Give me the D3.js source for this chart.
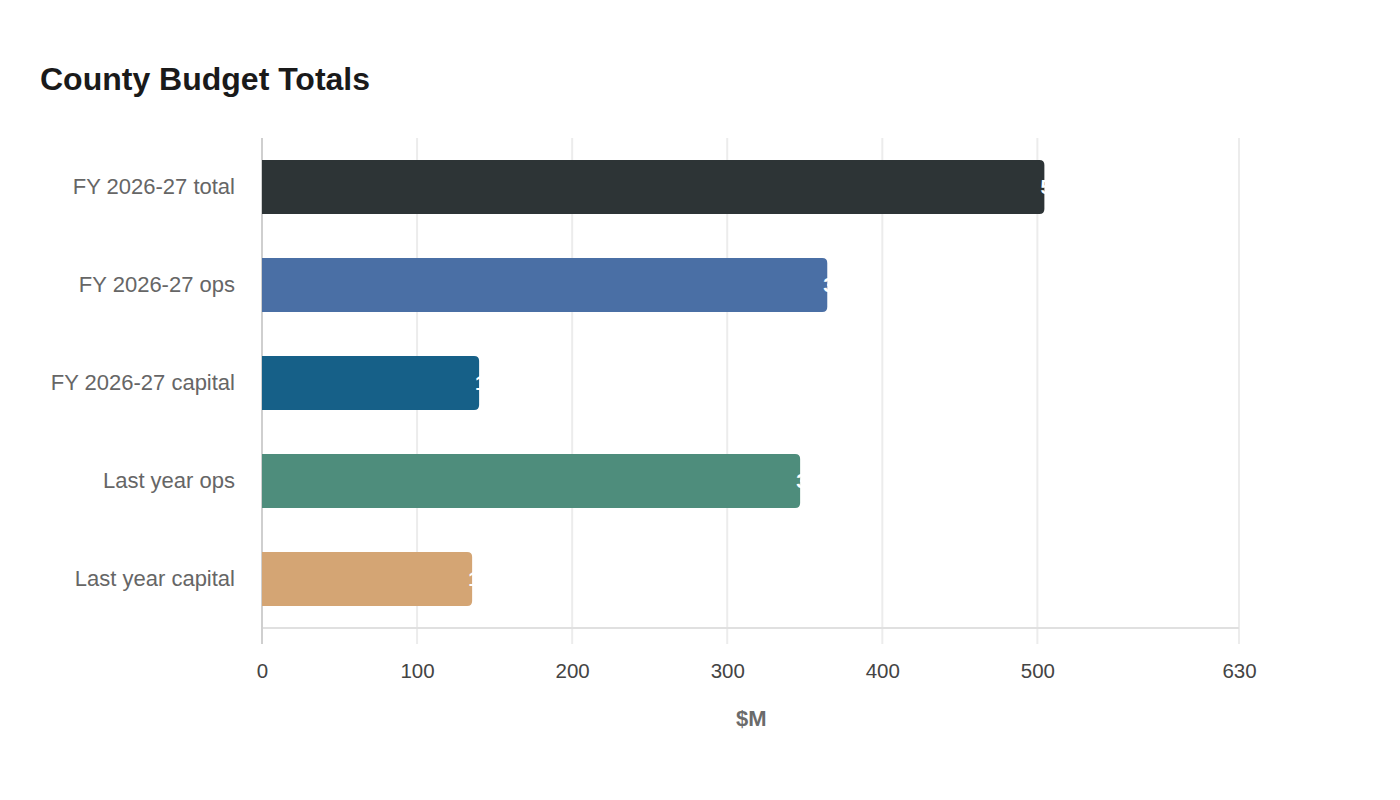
<!DOCTYPE html>
<html>
<head>
<meta charset="utf-8">
<script src="https://cdn.jsdelivr.net/npm/d3@7"></script>
<style>
  body { margin: 0; background: #fff; font-family: "Liberation Sans", Arial, sans-serif; }
</style>
</head>
<body>
<div id="chart-area"></div>
<script>
// data
var categories = ["FY 2026-27 total", "FY 2026-27 ops", "FY 2026-27 capital", "Last year ops", "Last year capital"];
var values = [504.5, 364.5, 140, 347, 135.5];
var colors = ["#2d3436", "#4a6fa5", "#166088", "#4e8d7c", "#d4a574"];
var tickValues = [0, 100, 200, 300, 400, 500, 630];

var margin = {top: 138, right: 161, bottom: 172, left: 262},
    width = 1400 - margin.left - margin.right,
    height = 800 - margin.top - margin.bottom;

var svg = d3.select("#chart-area").append("svg")
    .attr("width", 1400)
    .attr("height", 800);

svg.append("text")
    .attr("x", 40)
    .attr("y", 90)
    .attr("font-size", 32)
    .attr("font-weight", "bold")
    .attr("fill", "#1a1a1a")
    .text("County Budget Totals");

var g = svg.append("g")
    .attr("transform", "translate(" + margin.left + "," + margin.top + ")");

var x = d3.scaleLinear().domain([0, 630]).range([0, width]);
var y = d3.scaleBand().domain(categories).range([0, height])
    .paddingInner(0.45).paddingOuter(0.225);

// grid
g.selectAll(".grid")
    .data(tickValues)
    .enter().append("line")
    .attr("class", "grid")
    .attr("x1", d => x(d)).attr("x2", d => x(d))
    .attr("y1", 0).attr("y2", height + 16)
    .attr("stroke", "#ececec")
    .attr("stroke-width", 2);

// x axis line
g.append("line")
    .attr("x1", 0).attr("x2", width)
    .attr("y1", height).attr("y2", height)
    .attr("stroke", "#e0e0e0").attr("stroke-width", 2);

// y axis line
g.append("line")
    .attr("x1", 0).attr("x2", 0)
    .attr("y1", 0).attr("y2", height + 16)
    .attr("stroke", "#cfcfcf").attr("stroke-width", 2);

// x tick labels
var xAxis = g.append("g")
    .attr("transform", "translate(0," + height + ")")
    .call(d3.axisBottom(x).tickValues(tickValues).tickSize(0).tickPadding(35));
xAxis.select(".domain").remove();
xAxis.selectAll("text")
    .attr("font-size", 20.5)
    .attr("font-family", "Liberation Sans, Arial, sans-serif")
    .attr("fill", "#444");

// y labels
var yAxis = g.append("g")
    .call(d3.axisLeft(y).tickSize(0).tickPadding(27));
yAxis.select(".domain").remove();
yAxis.selectAll("text")
    .attr("font-size", 22)
    .attr("font-family", "Liberation Sans, Arial, sans-serif")
    .attr("fill", "#666");

// x title
svg.append("text")
    .attr("x", margin.left + x(315.5))
    .attr("y", 726)
    .attr("text-anchor", "middle")
    .attr("font-size", 22)
    .attr("font-weight", "bold")
    .attr("fill", "#6b6b6b")
    .text("$M");

// bars with rounded right end
function barPath(d) {
    var x0 = 0, x1 = x(d.v), y0 = y(d.c), h = y.bandwidth(), r = 5;
    return "M" + x0 + "," + y0 +
        "H" + (x1 - r) +
        "Q" + x1 + "," + y0 + " " + x1 + "," + (y0 + r) +
        "V" + (y0 + h - r) +
        "Q" + x1 + "," + (y0 + h) + " " + (x1 - r) + "," + (y0 + h) +
        "H" + x0 + "Z";
}

var rows = categories.map((c, i) => ({c: c, v: values[i], color: colors[i]}));

g.selectAll(".bar")
    .data(rows)
    .enter().append("path")
    .attr("class", "bar")
    .attr("fill", d => d.color)
    .attr("d", barPath);

// value labels (white, mostly hidden past the bar end)
g.selectAll(".val")
    .data(rows)
    .enter().append("text")
    .attr("class", "val")
    .attr("x", d => x(d.v) - 4)
    .attr("y", d => y(d.c) + y.bandwidth() / 2)
    .attr("dy", "0.35em")
    .attr("font-size", 20)
    .attr("font-weight", "bold")
    .attr("fill", "#fff")
    .text(d => d3.format(".1f")(d.v));
</script>
</body>
</html>
